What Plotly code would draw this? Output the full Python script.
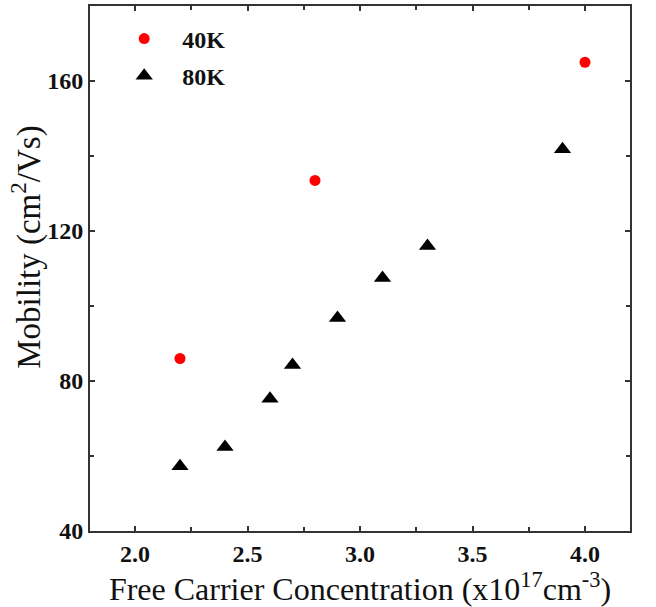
import plotly.graph_objects as go

x40 = [2.2, 2.8, 4.0]
y40 = [86.0, 133.5, 165.0]
x80 = [2.2, 2.4, 2.6, 2.7, 2.9, 3.1, 3.3, 3.9]
y80 = [57.3, 62.4, 75.3, 84.3, 96.8, 107.5, 116.0, 141.8]
xticks = [2.0, 2.5, 3.0, 3.5, 4.0]
yticks = [40, 80, 120, 160]

SERIF = "Liberation Serif, Times New Roman, serif"

fig = go.Figure()
fig.add_trace(go.Scatter(x=x40, y=y40, mode="markers", name="40K", legendgroup="a",
                         marker=dict(symbol="circle", size=11, color="#ff0000")))
fig.add_trace(go.Scatter(x=x80, y=y80, mode="markers", name="80K", legendgroup="b",
                         marker=dict(symbol="triangle-up", size=15, color="#000000")))

axis_common = dict(showline=True, linecolor="#333333", linewidth=2, mirror="ticks",
                   ticks="inside", ticklen=5, tickwidth=2, tickcolor="#333333",
                   showgrid=False, zeroline=False,
                   tickfont=dict(family=SERIF, size=24, color="#111111", weight="bold"))

fig.update_xaxes(range=[1.8, 4.2], tickvals=xticks, ticktext=[f"{v:.1f}" for v in xticks],
                 minor=dict(dtick=0.25, ticks="inside", ticklen=4, tickwidth=2, tickcolor="#333333"),
                 title=dict(text="Free Carrier Concentration (x10<sup>17</sup>cm<sup>-3</sup>)",
                            font=dict(family=SERIF, size=32, color="#111111"), standoff=4),
                 **axis_common)
fig.update_yaxes(range=[40, 180], tickvals=yticks,
                 minor=dict(dtick=20, ticks="inside", ticklen=4, tickwidth=2, tickcolor="#333333"),
                 **axis_common)

fig.add_annotation(text="Mobility (cm<sup>2</sup>/Vs)", textangle=-90,
                   xref="paper", yref="paper", x=-0.118, y=0.54,
                   xanchor="center", yanchor="middle", showarrow=False,
                   font=dict(family=SERIF, size=33, color="#111111"))

fig.update_layout(
    width=656, height=607,
    margin=dict(l=90, r=26, t=4, b=76),
    plot_bgcolor="white", paper_bgcolor="white",
    showlegend=True,
    legend=dict(x=0.03, y=0.98, xanchor="left", yanchor="top", bgcolor="rgba(0,0,0,0)",
                font=dict(family=SERIF, size=24, color="#111111", weight="bold"),
                itemwidth=66, tracegroupgap=3),
)

fig.write_html("out.html")
